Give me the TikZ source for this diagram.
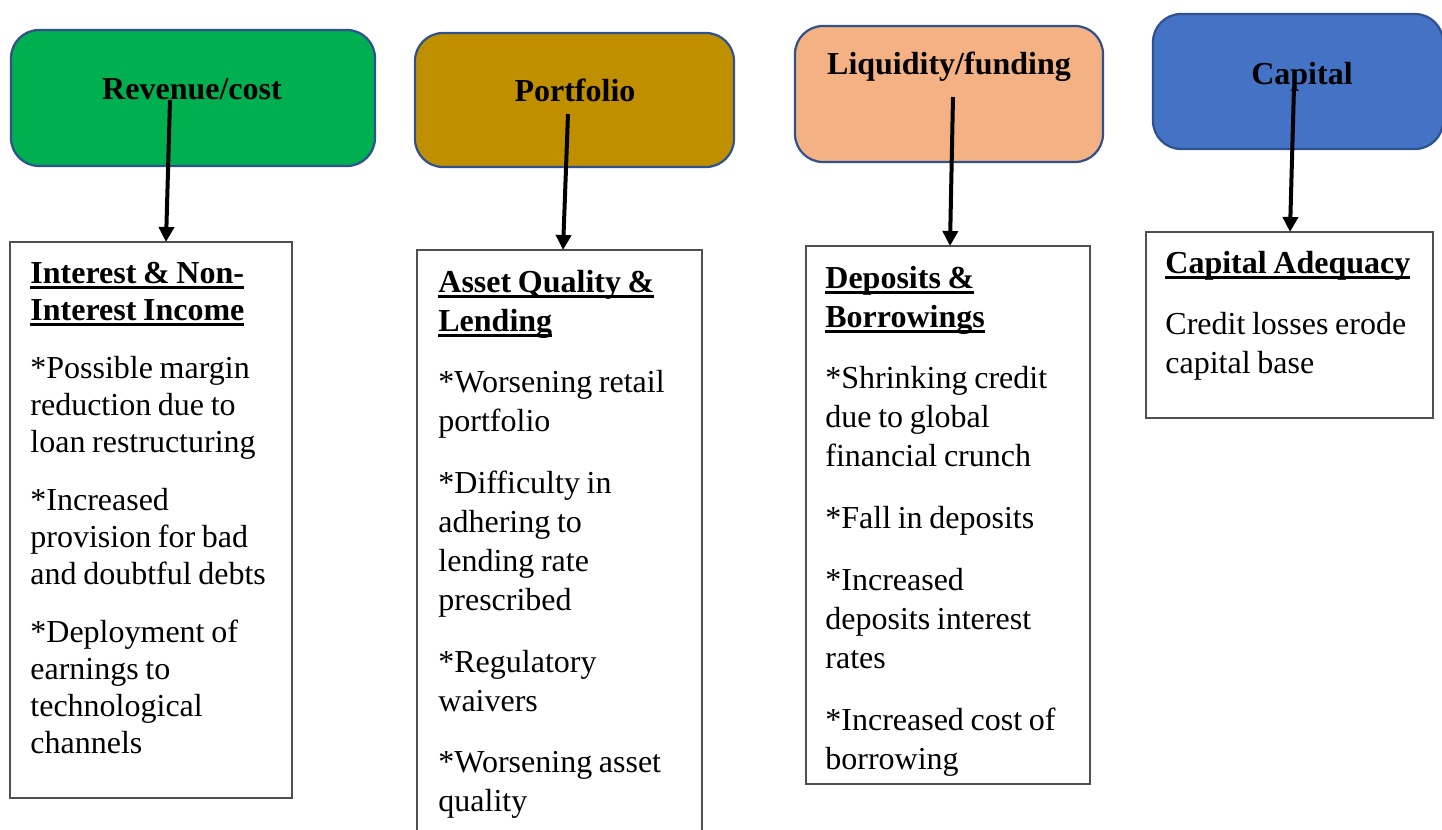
\documentclass[tikz,border=0pt]{standalone}
\usepackage{fontspec}
\setmainfont{Liberation Serif}
\usetikzlibrary{arrows.meta}
\definecolor{cgreen}{HTML}{00B050}
\definecolor{cgold}{HTML}{BF8F00}
\definecolor{corange}{HTML}{F4B183}
\definecolor{cblue}{HTML}{4472C4}
\definecolor{cborder}{HTML}{2F528F}
\definecolor{cgray}{HTML}{505050}
\newcommand\hul[1]{\leavevmode\setbox0\hbox{#1}\rlap{\rule[-3pt]{\wd0}{1.5pt}}\box0}
\tikzset{
  topbox/.style={draw=cborder, line width=1.1pt, rounded corners=14pt, inner sep=0pt},
  toptext/.style={anchor=base, inner sep=0pt, font=\fontsize{16}{19}\selectfont\bfseries},
  infobox/.style={draw=cgray, line width=1pt, inner sep=0pt, fill=white},
  infotext/.style={anchor=base west, inner sep=0pt, text width=138pt, align=left},
  conn/.style={line width=2pt, -{Triangle[length=7.5pt,width=7.5pt]}}
}
\begin{document}
\begin{tikzpicture}[x=0.5pt,y=-0.5pt]
\useasboundingbox (0,0) rectangle (1442,830);
\clip (0,0) rectangle (1442,830);
% top boxes
\node[topbox, fill=cgreen, minimum width=182pt, minimum height=68pt] (n1) at (193,98) {};
\node[topbox, fill=cgold, minimum width=159.5pt, minimum height=67pt] (n2) at (574.5,100) {};
\node[topbox, fill=corange, minimum width=154pt, minimum height=68pt] (n3) at (949,94) {};
\node[topbox, fill=cblue, minimum width=145pt, minimum height=67.5pt] (n4) at (1298,81.5) {};
\node[toptext] (l1) at (192,99) {Revenue/cost};
\node[toptext] (l2) at (575,101) {Portfolio};
\node[toptext] (l3) at (949,74) {Liquidity/funding};
\node[toptext] (l4) at (1302,84) {Capital};
% bottom boxes
\node[infobox, minimum width=141pt, minimum height=278pt] (b1) at (151,520) {};
\node[infobox, minimum width=142.5pt, minimum height=315pt] (b2) at (559.5,565) {};
\node[infobox, minimum width=142pt, minimum height=269pt] (b3) at (948,515) {};
\node[infobox, minimum width=143.5pt, minimum height=93pt] (b4) at (1289.5,325) {};
\node[infotext] (t1) at (30,283) {\fontsize{16}{18.5}\selectfont\setlength{\parskip}{10.6pt}%
\hul{\textbf{Interest \& Non-}}\\\hul{\textbf{Interest Income}}\par
*Possible margin\\reduction due to\\loan restructuring\par
*Increased\\provision for bad\\and doubtful debts\par
*Deployment of\\earnings to\\technological\\channels\par};
\node[infotext] (t2) at (438,292) {\fontsize{16}{19.6}\selectfont\setlength{\parskip}{11.1pt}%
\hul{\textbf{Asset Quality \&}}\\\hul{\textbf{Lending}}\par
*Worsening retail\\portfolio\par
*Difficulty in\\adhering to\\lending rate\\prescribed\par
*Regulatory\\waivers\par
*Worsening asset\\quality\par};
\node[infotext] (t3) at (825,288) {\fontsize{16}{19.5}\selectfont\setlength{\parskip}{11.4pt}%
\hul{\textbf{Deposits \&}}\\\hul{\textbf{Borrowings}}\par
*Shrinking credit\\due to global\\financial crunch\par
*Fall in deposits\par
*Increased\\deposits interest\\rates\par
*Increased cost of\\borrowing\par};
\node[infotext] (t4) at (1165,273) {\fontsize{16}{19.5}\selectfont\setlength{\parskip}{11.2pt}%
\hul{\textbf{Capital Adequacy}}\par
Credit losses erode\\capital base\par};
% connectors
\coordinate (s1) at (170,100); \coordinate (e1) at (166,242);
\coordinate (s2) at (568,114); \coordinate (e2) at (563,250);
\coordinate (s3) at (953,97);  \coordinate (e3) at (950,246);
\coordinate (s4) at (1294,87); \coordinate (e4) at (1290,232);
\draw[conn] (s1) -- (e1);
\draw[conn] (s2) -- (e2);
\draw[conn] (s3) -- (e3);
\draw[conn] (s4) -- (e4);
\end{tikzpicture}
\end{document}
